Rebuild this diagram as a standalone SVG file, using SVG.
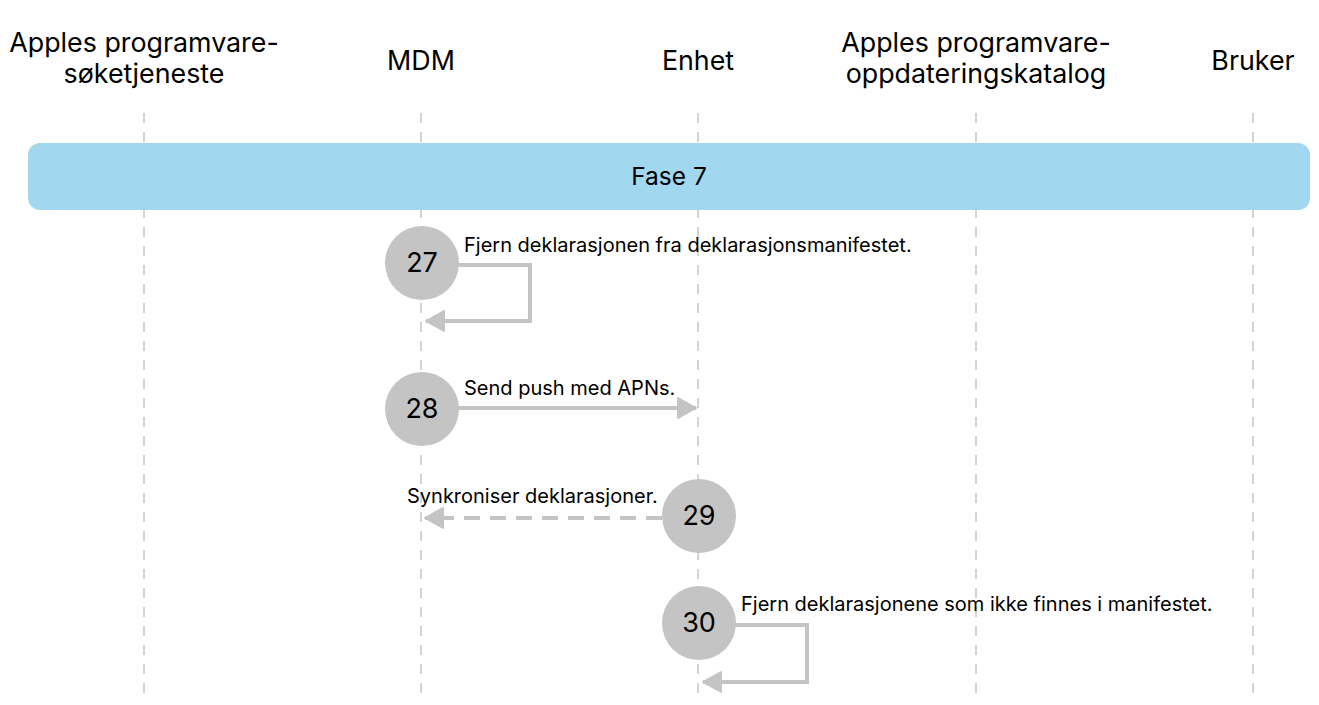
<svg xmlns="http://www.w3.org/2000/svg" width="1319" height="705" viewBox="0 0 1319 705">
<style>
.hdr{font-family:Inter,"Liberation Sans",sans-serif;font-size:26.8px;fill:#000;text-anchor:middle}
.lbl{font-family:Inter,"Liberation Sans",sans-serif;font-size:20px;fill:#000}
.num{font-family:Inter,"Liberation Sans",sans-serif;font-size:27px;fill:#000;text-anchor:middle}
.life{stroke:#a8a8a8;stroke-width:1;stroke-dasharray:10 9;fill:none}
.circ{fill:#c4c4c4}
.conn{stroke:#c4c4c4;stroke-width:4;fill:none}
</style>
<defs>
<marker id="ah" viewBox="0 0 24 24" refX="21" refY="12" markerWidth="24" markerHeight="24" markerUnits="userSpaceOnUse" orient="auto">
<path d="M3,2 L21,12 L3,22 Z" fill="#c4c4c4" stroke="#c4c4c4" stroke-width="2" stroke-linejoin="round"/>
</marker>
</defs>
<rect width="1319" height="705" fill="#fff"/>
<g id="lifelines">
<line class="life" x1="144" y1="113" x2="144" y2="700"/>
<line class="life" x1="421" y1="113" x2="421" y2="700"/>
<line class="life" x1="698" y1="113" x2="698" y2="700"/>
<line class="life" x1="976" y1="113" x2="976" y2="700"/>
<line class="life" x1="1253" y1="113" x2="1253" y2="700"/>
</g>
<g id="headers">
<text class="hdr" x="144" y="52">Apples programvare-</text>
<text class="hdr" x="144" y="83">søketjeneste</text>
<text class="hdr" x="421" y="70">MDM</text>
<text class="hdr" x="698" y="70">Enhet</text>
<text class="hdr" x="976" y="52">Apples programvare-</text>
<text class="hdr" x="976" y="83">oppdateringskatalog</text>
<text class="hdr" x="1253" y="70">Bruker</text>
</g>
<g id="phase">
<rect x="28" y="143" width="1282" height="67" rx="12" fill="#a2d8ef"/>
<text class="hdr" x="669" y="185" style="font-size:24.5px">Fase 7</text>
</g>
<g id="connectors">
<polyline class="conn" points="458,265 530,265 530,321 426,321" marker-end="url(#ah)"/>
<line class="conn" x1="458" y1="408" x2="696" y2="408" marker-end="url(#ah)"/>
<line class="conn" x1="662" y1="518" x2="425" y2="518" stroke-dasharray="16 10" marker-end="url(#ah)"/>
<polyline class="conn" points="735,625 807,625 807,682 703,682" marker-end="url(#ah)"/>
</g>
<g id="step27">
<circle class="circ" cx="422" cy="263" r="37"/>
<text class="num" x="422" y="272">27</text>
<text class="lbl" x="464" y="252">Fjern deklarasjonen fra deklarasjonsmanifestet.</text>
</g>
<g id="step28">
<circle class="circ" cx="422" cy="409" r="37"/>
<text class="num" x="422" y="418">28</text>
<text class="lbl" x="464" y="395">Send push med APNs.</text>
</g>
<g id="step29">
<circle class="circ" cx="699" cy="516" r="37"/>
<text class="num" x="699" y="525">29</text>
<text class="lbl" x="407" y="503">Synkroniser deklarasjoner.</text>
</g>
<g id="step30">
<circle class="circ" cx="699" cy="623" r="37"/>
<text class="num" x="699" y="632">30</text>
<text class="lbl" x="741" y="611">Fjern deklarasjonene som ikke finnes i manifestet.</text>
</g>
</svg>
